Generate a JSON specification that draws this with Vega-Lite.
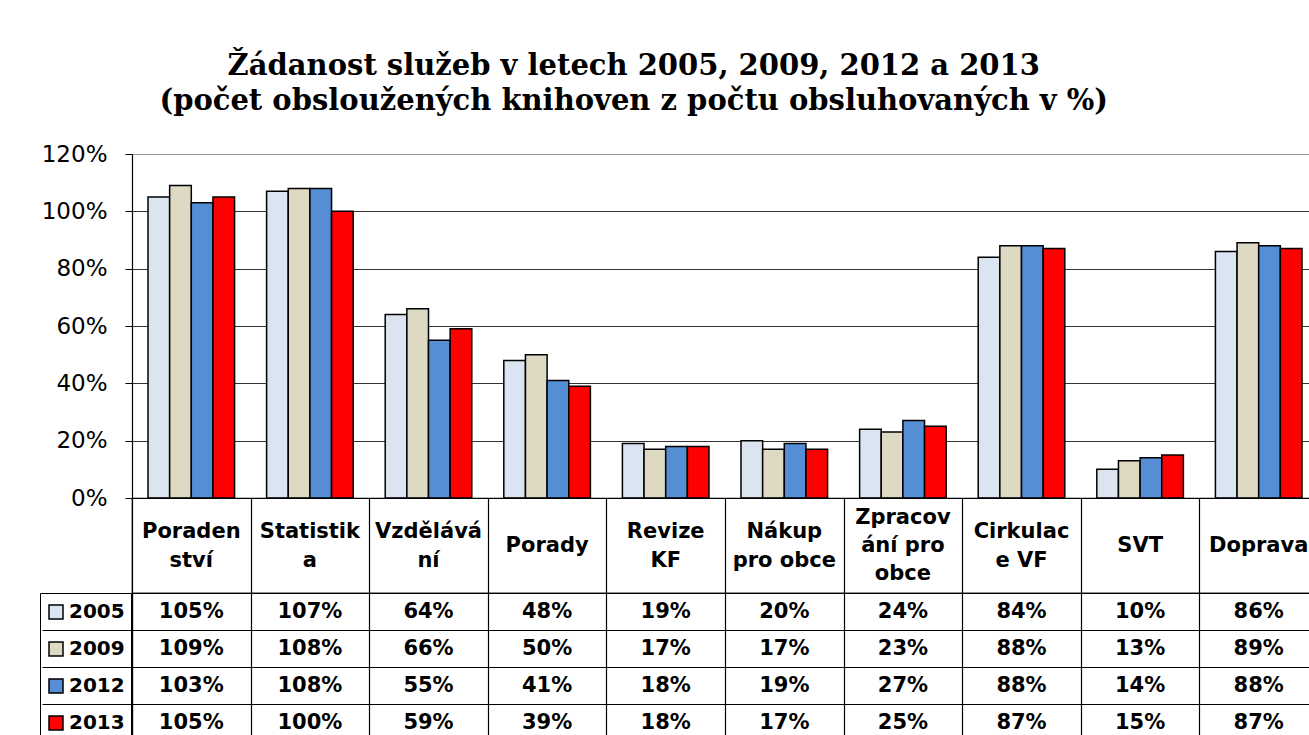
{
  "$schema": "https://vega.github.io/schema/vega-lite/v6.json",
  "padding": {"left": 38, "top": 52, "right": 0, "bottom": 0},
  "background": "white",
  "spacing": 0,
  "bounds": "flush",
  "config": {"view": {"stroke": null}, "concat": {"spacing": 0}},
  "resolve": {"scale": {"color": "independent"}, "legend": {"color": "independent"}},
  "title": {
    "text": ["Žádanost služeb v letech 2005, 2009, 2012 a 2013", "(počet obsloužených knihoven z počtu obsluhovaných v %)"],
    "font": "DejaVu Serif", "fontSize": 29, "fontWeight": "bold", "color": "black", "lineHeight": 35, "anchor": "middle", "offset": 27, "dx": -45
  },
  "datasets": {
    "values": [
      {"cat": "Poradenství", "year": "2005", "value": 1.05},
      {"cat": "Poradenství", "year": "2009", "value": 1.09},
      {"cat": "Poradenství", "year": "2012", "value": 1.03},
      {"cat": "Poradenství", "year": "2013", "value": 1.05},
      {"cat": "Statistika", "year": "2005", "value": 1.07},
      {"cat": "Statistika", "year": "2009", "value": 1.08},
      {"cat": "Statistika", "year": "2012", "value": 1.08},
      {"cat": "Statistika", "year": "2013", "value": 1.00},
      {"cat": "Vzdělávání", "year": "2005", "value": 0.64},
      {"cat": "Vzdělávání", "year": "2009", "value": 0.66},
      {"cat": "Vzdělávání", "year": "2012", "value": 0.55},
      {"cat": "Vzdělávání", "year": "2013", "value": 0.59},
      {"cat": "Porady", "year": "2005", "value": 0.48},
      {"cat": "Porady", "year": "2009", "value": 0.50},
      {"cat": "Porady", "year": "2012", "value": 0.41},
      {"cat": "Porady", "year": "2013", "value": 0.39},
      {"cat": "Revize KF", "year": "2005", "value": 0.19},
      {"cat": "Revize KF", "year": "2009", "value": 0.17},
      {"cat": "Revize KF", "year": "2012", "value": 0.18},
      {"cat": "Revize KF", "year": "2013", "value": 0.18},
      {"cat": "Nákup pro obce", "year": "2005", "value": 0.20},
      {"cat": "Nákup pro obce", "year": "2009", "value": 0.17},
      {"cat": "Nákup pro obce", "year": "2012", "value": 0.19},
      {"cat": "Nákup pro obce", "year": "2013", "value": 0.17},
      {"cat": "Zpracování pro obce", "year": "2005", "value": 0.24},
      {"cat": "Zpracování pro obce", "year": "2009", "value": 0.23},
      {"cat": "Zpracování pro obce", "year": "2012", "value": 0.27},
      {"cat": "Zpracování pro obce", "year": "2013", "value": 0.25},
      {"cat": "Cirkulace VF", "year": "2005", "value": 0.84},
      {"cat": "Cirkulace VF", "year": "2009", "value": 0.88},
      {"cat": "Cirkulace VF", "year": "2012", "value": 0.88},
      {"cat": "Cirkulace VF", "year": "2013", "value": 0.87},
      {"cat": "SVT", "year": "2005", "value": 0.10},
      {"cat": "SVT", "year": "2009", "value": 0.13},
      {"cat": "SVT", "year": "2012", "value": 0.14},
      {"cat": "SVT", "year": "2013", "value": 0.15},
      {"cat": "Doprava", "year": "2005", "value": 0.86},
      {"cat": "Doprava", "year": "2009", "value": 0.89},
      {"cat": "Doprava", "year": "2012", "value": 0.88},
      {"cat": "Doprava", "year": "2013", "value": 0.87}
    ],
    "cats": [
      {"cat": "Poradenství", "label": ["Poraden", "ství"]},
      {"cat": "Statistika", "label": ["Statistik", "a"]},
      {"cat": "Vzdělávání", "label": ["Vzdělává", "ní"]},
      {"cat": "Porady", "label": ["Porady"]},
      {"cat": "Revize KF", "label": ["Revize", "KF"]},
      {"cat": "Nákup pro obce", "label": ["Nákup", "pro obce"]},
      {"cat": "Zpracování pro obce", "label": ["Zpracov", "ání pro", "obce"]},
      {"cat": "Cirkulace VF", "label": ["Cirkulac", "e VF"]},
      {"cat": "SVT", "label": ["SVT"]},
      {"cat": "Doprava", "label": ["Doprava"]}
    ]
  },
  "vconcat": [
    {
      "width": 1186,
      "height": 344,
      "data": {"name": "values"},
      "mark": {"type": "bar", "stroke": "black", "strokeWidth": 1.5},
      "encoding": {
        "x": {
          "field": "cat", "type": "nominal",
          "sort": ["Poradenství", "Statistika", "Vzdělávání", "Porady", "Revize KF", "Nákup pro obce", "Zpracování pro obce", "Cirkulace VF", "SVT", "Doprava"],
          "scale": {"paddingInner": 0.27, "paddingOuter": 0.135},
          "axis": {"title": null, "labels": false, "ticks": false, "domainColor": "black", "domainWidth": 1.2}
        },
        "xOffset": {"field": "year", "type": "nominal", "sort": ["2005", "2009", "2012", "2013"], "scale": {"paddingInner": 0, "paddingOuter": 0}},
        "y": {
          "field": "value", "type": "quantitative",
          "scale": {"domain": [0, 1.2]},
          "axis": {
            "title": null, "format": ".0%", "values": [0, 0.2, 0.4, 0.6, 0.8, 1.0, 1.2],
            "labelFont": "DejaVu Sans", "labelFontSize": 23, "labelColor": "black",
            "tickSize": 7, "tickColor": "black", "labelPadding": 18,
            "domainColor": "black", "domainWidth": 1.2,
            "gridColor": {"condition": {"test": "datum.value > 1.1", "value": "#999999"}, "value": "#333333"},
            "gridOpacity": 1, "gridWidth": 1.2
          }
        },
        "color": {
          "field": "year", "type": "nominal",
          "scale": {"domain": ["2005", "2009", "2012", "2013"], "range": ["#DBE5F1", "#DDD9C3", "#558ED5", "#FF0000"]},
          "legend": null
        }
      }
    },
    {
      "width": 1186,
      "height": 95,
      "view": {"stroke": "black", "strokeWidth": 1.2},
      "data": {"name": "cats"},
      "encoding": {
        "x": {
          "field": "cat", "type": "nominal",
          "sort": ["Poradenství", "Statistika", "Vzdělávání", "Porady", "Revize KF", "Nákup pro obce", "Zpracování pro obce", "Cirkulace VF", "SVT", "Doprava"],
          "scale": {"padding": 0},
          "axis": {"title": null, "labels": false, "ticks": false, "domain": false, "grid": true, "tickBand": "extent", "gridColor": "black", "gridOpacity": 1, "gridWidth": 1.2}
        },
        "text": {"field": "label"}
      },
      "layer": [
        {
          "transform": [{"filter": "length(datum.label) == 1"}],
          "mark": {"type": "text", "font": "DejaVu Sans", "fontSize": 21, "fontWeight": "bold", "lineHeight": 28, "baseline": "middle", "align": "center", "color": "black", "dy": 0}
        },
        {
          "transform": [{"filter": "length(datum.label) == 2"}],
          "mark": {"type": "text", "font": "DejaVu Sans", "fontSize": 21, "fontWeight": "bold", "lineHeight": 29, "baseline": "middle", "align": "center", "color": "black", "dy": -14}
        },
        {
          "transform": [{"filter": "length(datum.label) == 3"}],
          "mark": {"type": "text", "font": "DejaVu Sans", "fontSize": 21, "fontWeight": "bold", "lineHeight": 28, "baseline": "middle", "align": "center", "color": "black", "dy": -28}
        }
      ]
    },
    {
      "width": 1186,
      "height": 148,
      "view": {"stroke": "black", "strokeWidth": 1.2},
      "data": {"name": "values"},
      "mark": {"type": "text", "font": "DejaVu Sans", "fontSize": 21, "fontWeight": "bold", "fill": "black", "baseline": "middle", "align": "center"},
      "encoding": {
        "x": {
          "field": "cat", "type": "nominal",
          "sort": ["Poradenství", "Statistika", "Vzdělávání", "Porady", "Revize KF", "Nákup pro obce", "Zpracování pro obce", "Cirkulace VF", "SVT", "Doprava"],
          "scale": {"padding": 0},
          "axis": {"title": null, "labels": false, "ticks": false, "domain": false, "grid": true, "tickBand": "extent", "gridColor": "black", "gridOpacity": 1, "gridWidth": 1.2}
        },
        "y": {
          "field": "year", "type": "nominal",
          "sort": ["2005", "2009", "2012", "2013"],
          "scale": {"padding": 0},
          "axis": {"title": null, "labels": false, "ticks": true, "tickSize": 90, "tickBand": "extent", "tickColor": "black", "tickWidth": 1.2, "grid": true, "gridColor": "black", "gridOpacity": 1, "gridWidth": 1.2, "domainColor": "black", "domainWidth": 1.2}
        },
        "text": {"field": "value", "type": "quantitative", "format": ".0%"},
        "color": {
          "field": "year", "type": "nominal",
          "scale": {"domain": ["2005", "2009", "2012", "2013"], "range": ["#DBE5F1", "#DDD9C3", "#558ED5", "#FF0000"]},
          "legend": {
            "orient": "left", "offset": -90, "title": " ", "titleFontSize": 1, "titlePadding": 2,
            "symbolType": "square", "symbolSize": 196, "symbolStrokeColor": "black", "symbolStrokeWidth": 1.5, "symbolOpacity": 1,
            "labelFont": "DejaVu Sans", "labelFontSize": 20, "labelFontWeight": "bold", "labelColor": "black", "labelOffset": 3,
            "rowPadding": 17, "padding": 6, "strokeColor": "black"
          }
        }
      }
    }
  ]
}
